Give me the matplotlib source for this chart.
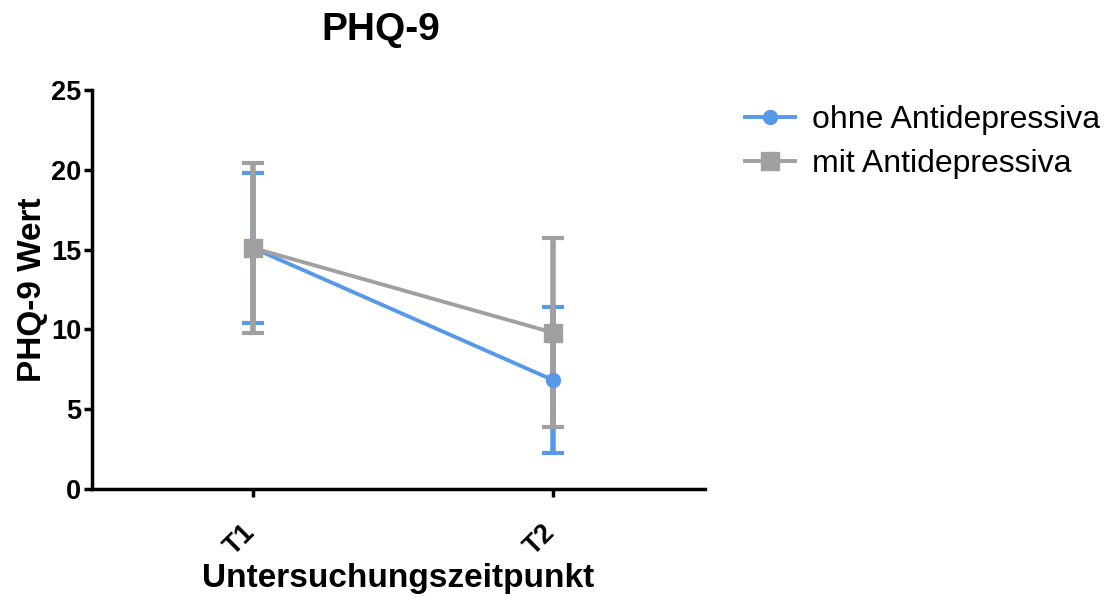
import matplotlib
matplotlib.use("Agg")
import matplotlib.pyplot as plt
import matplotlib.transforms as mtransforms
from matplotlib.lines import Line2D

plt.rcParams['font.family'] = ['Liberation Sans', 'DejaVu Sans']

timepoints = ["T1", "T2"]
ohne_mean = [15.1, 6.83]
ohne_err = [4.7, 4.6]
mit_mean = [15.1, 9.8]
mit_err = [5.35, 5.9]

blue = "#5599E8"
gray = "#A0A0A0"

fig = plt.figure(figsize=(11.1, 6.0), dpi=100)
ax = fig.add_axes([0.083, 0.185, 0.552, 0.665])

x = list(range(len(timepoints)))
# error bars
ax.errorbar(x, ohne_mean, yerr=ohne_err, fmt='none', ecolor=blue,
            elinewidth=4, capsize=8, capthick=3, zorder=2)
ax.errorbar(x, mit_mean, yerr=mit_err, fmt='none', ecolor=gray,
            elinewidth=4, capsize=8, capthick=3, zorder=3)
# lines and markers
ax.plot(x, ohne_mean, color=blue, marker='o', markersize=10, linewidth=2.8, zorder=4)
ax.plot(x, mit_mean, color=gray, marker='s', markersize=13, linewidth=2.8, zorder=5)

ax.set_xlim(-0.537, 1.507)
ax.set_ylim(0, 25)
ax.set_yticks([0, 5, 10, 15, 20, 25])
ax.set_xticks(x)
ax.set_xticklabels(timepoints, rotation=45, ha='right', va='top')
for s in ['top', 'right']:
    ax.spines[s].set_visible(False)
for s in ['left', 'bottom']:
    ax.spines[s].set_linewidth(2.5)
ax.tick_params(axis='both', width=2.5, length=6, labelsize=19.5)
ax.tick_params(axis='y', pad=2)
ax.tick_params(axis='x', pad=16)
offset = mtransforms.ScaledTranslation(7 / 100, 0, fig.dpi_scale_trans)
for lbl in ax.get_xticklabels():
    lbl.set_transform(lbl.get_transform() + offset)
for lbl in ax.get_xticklabels() + ax.get_yticklabels():
    lbl.set_fontweight('bold')

ax.set_ylabel("PHQ-9 Wert", fontsize=24, fontweight='bold', labelpad=2)
ax.set_xlabel("Untersuchungszeitpunkt", fontsize=24, fontweight='bold', labelpad=2)
fig.text(0.343, 0.95, "PHQ-9", fontsize=28, fontweight='bold', ha='center', va='center')

handles = [
    Line2D([], [], color=blue, marker='o', markersize=10, linewidth=2.8),
    Line2D([], [], color=gray, marker='s', markersize=13, linewidth=2.8),
]
labels = ["ohne Antidepressiva", "mit Antidepressiva"]
fig.legend(handles, labels, loc='upper left', bbox_to_anchor=(0.671, 0.825),
           frameon=False, fontsize=23, handlelength=1.56, labelspacing=0.45,
           handletextpad=0.53, borderpad=0, borderaxespad=0)

fig.savefig("out.png", dpi=100)
